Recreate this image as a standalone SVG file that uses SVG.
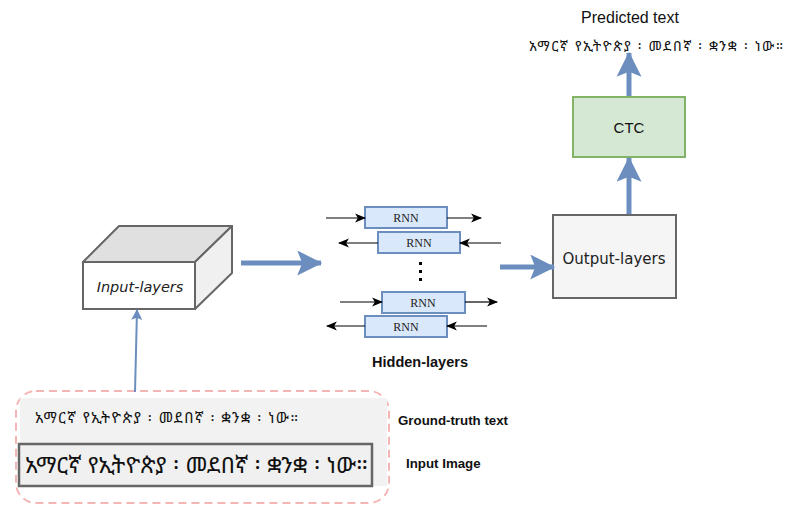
<svg xmlns="http://www.w3.org/2000/svg" width="792" height="507" viewBox="0 0 792 507">
<defs>
<style>
.rnn rect{fill:#dae8fc;stroke:#6c8ebf;stroke-width:2}
.rnn text{font-family:"Liberation Serif",serif;font-size:12px;fill:#222;text-anchor:middle}
.thin{stroke:#000;stroke-width:1.2;fill:none}
.blue{stroke:#6c8ebf;fill:none}
.lbl{font-family:"Liberation Sans",Arial,sans-serif;font-weight:bold;font-size:13.3px;fill:#111}
.am{font-family:"Noto Sans Ethiopic","Abyssinica SIL","Noto Serif Ethiopic",sans-serif;fill:#111}
.hand{font-family:"DejaVu Sans",sans-serif;fill:#222}
</style>
<marker id="ab" viewBox="0 0 10 10" refX="9" refY="5" markerWidth="11" markerHeight="11" orient="auto" markerUnits="userSpaceOnUse"><path d="M0,1 L10,5 L0,9 L2.5,5 Z" fill="#000"/></marker>
<marker id="bb" viewBox="0 0 10 10" refX="9.5" refY="5" markerWidth="5" markerHeight="5" orient="auto"><path d="M0,0 L10,5 L0,10 L2,5 Z" fill="#6c8ebf"/></marker>
<marker id="bs" viewBox="0 0 10 10" refX="9" refY="5" markerWidth="5.5" markerHeight="5.5" orient="auto"><path d="M0,0 L10,5 L0,10 L2,5 Z" fill="#6c8ebf"/></marker>
</defs>

<g id="predicted-text">
<text x="630" y="23" font-family="Liberation Sans,Arial,sans-serif" font-size="16" text-anchor="middle" fill="#111">Predicted text</text>
<text class="am" x="529" y="51" font-size="14" textLength="254" lengthAdjust="spacing">አማርኛ የኢትዮጵያ ፡ መደበኛ ፡ ቋንቋ ፡ ነው።</text>
</g>

<g id="ctc">
<rect x="573" y="97" width="112" height="60" fill="#d5e8d4" stroke="#82b366" stroke-width="2"/>
<text x="629" y="133" font-family="Liberation Sans,Arial,sans-serif" font-size="15" text-anchor="middle" fill="#111">CTC</text>
</g>

<g id="output-layers">
<rect x="553" y="215" width="123" height="83" fill="#f5f5f5" stroke="#666" stroke-width="2"/>
<text class="hand" x="614" y="264" font-size="15" text-anchor="middle">Output-layers</text>
</g>

<g id="input-layers">
<path d="M83,262 L119,226 L232,226 L195,262 Z" fill="#e0e0e0" stroke="#666" stroke-width="2" stroke-linejoin="round"/>
<path d="M195,262 L232,226 L232,273 L195,309 Z" fill="#f0f0f0" stroke="#666" stroke-width="2" stroke-linejoin="round"/>
<rect x="83" y="262" width="112" height="47" fill="#fff" stroke="#666" stroke-width="2"/>
<text class="hand" x="140" y="292" font-size="14.5" font-style="italic" text-anchor="middle">Input-layers</text>
</g>

<g id="hidden-layers">
<g id="rnn1" class="rnn"><rect x="365" y="207" width="82" height="21"/><text x="406" y="222">RNN</text></g>
<g id="rnn2" class="rnn"><rect x="378" y="232" width="82" height="21"/><text x="419" y="247">RNN</text></g>
<g id="rnn3" class="rnn"><rect x="382" y="292" width="83" height="21"/><text x="423" y="307">RNN</text></g>
<g id="rnn4" class="rnn"><rect x="365" y="316" width="82" height="21"/><text x="406" y="331">RNN</text></g>
<g id="dots" fill="#000"><rect x="419" y="262" width="3" height="3"/><rect x="419" y="270" width="3" height="3"/><rect x="419" y="278" width="3" height="3"/></g>
<text class="lbl" x="420" y="367" text-anchor="middle" style="font-size:14.5px">Hidden-layers</text>
</g>

<g id="ground-truth">
<rect x="16" y="391" width="373" height="112" rx="20" fill="none" stroke="#f4b6b4" stroke-width="2" stroke-dasharray="8,5"/>
<rect x="20" y="398" width="367" height="88" fill="#f2f2f2"/>
<text class="am" x="35" y="423" font-size="15" textLength="263" lengthAdjust="spacing">አማርኛ የኢትዮጵያ ፡ መደበኛ ፡ ቋንቋ ፡ ነው።</text>
<text class="lbl" x="398" y="425">Ground-truth text</text>
</g>

<g id="input-image">
<rect x="19" y="444" width="353" height="42" fill="#f0f0f0" stroke="#666" stroke-width="2.5"/>
<text class="am" x="25" y="473" font-size="23" textLength="343" lengthAdjust="spacing">አማርኛ የኢትዮጵያ ፡ መደበኛ ፡ ቋንቋ ፡ ነው።</text>
<text class="lbl" x="406" y="468">Input Image</text>
</g>

<g id="connectors">
<line class="thin" x1="326" y1="218" x2="365" y2="218" marker-end="url(#ab)"/>
<line class="thin" x1="447" y1="218" x2="481" y2="218" marker-end="url(#ab)"/>
<line class="thin" x1="501" y1="243" x2="460" y2="243" marker-end="url(#ab)"/>
<line class="thin" x1="378" y1="243" x2="339" y2="243" marker-end="url(#ab)"/>
<line class="thin" x1="340" y1="302" x2="382" y2="302" marker-end="url(#ab)"/>
<line class="thin" x1="465" y1="302" x2="497" y2="302" marker-end="url(#ab)"/>
<line class="thin" x1="487" y1="326" x2="447" y2="326" marker-end="url(#ab)"/>
<line class="thin" x1="365" y1="326" x2="327" y2="326" marker-end="url(#ab)"/>
<line class="blue" x1="241" y1="263" x2="321" y2="263" stroke-width="5" marker-end="url(#bb)"/>
<line class="blue" x1="500" y1="267" x2="554" y2="267" stroke-width="5" marker-end="url(#bb)"/>
<line class="blue" x1="629" y1="214" x2="629" y2="158" stroke-width="5" marker-end="url(#bb)"/>
<line class="blue" x1="629" y1="96" x2="629" y2="53" stroke-width="5" marker-end="url(#bb)"/>
<line class="blue" x1="135" y1="392" x2="137" y2="310" stroke-width="2" marker-end="url(#bs)"/>
</g>
</svg>
